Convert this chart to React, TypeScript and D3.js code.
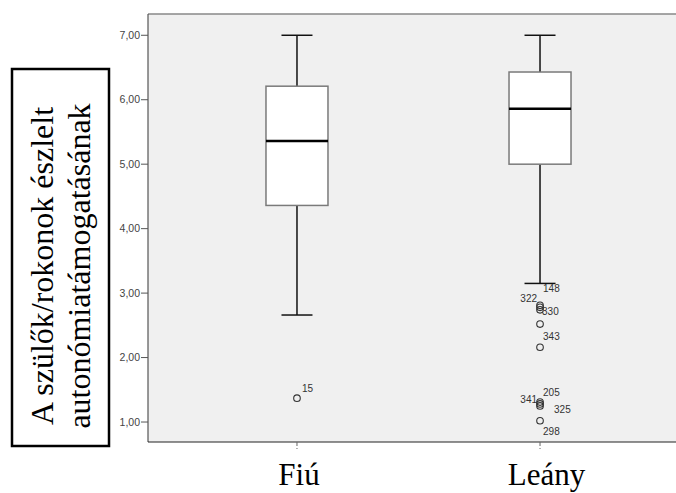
import React from 'react'
import * as d3 from 'd3'

// csoportok és dobozdiagram értékek
const groups = ['Fiú', 'Leány']
const whiskerLow = [2.66, 3.15]
const q1 = [4.36, 5.0]
const median = [5.36, 5.86]
const q3 = [6.21, 6.43]
const whiskerHigh = [7.0, 7.0]

// kiugró értékek
const outlierGroup = ['Fiú', 'Leány', 'Leány', 'Leány', 'Leány', 'Leány', 'Leány', 'Leány', 'Leány', 'Leány']
const outlierValue = [1.37, 2.81, 2.78, 2.74, 2.52, 2.16, 1.31, 1.28, 1.25, 1.02]
const outlierId = ['15', '148', '322', '330', '', '343', '205', '341', '325', '298']

const yTicks = [1, 2, 3, 4, 5, 6, 7]
const titleLines = ['A szülők/rokonok észlelt', 'autonómiatámogatásának']

// címke elhelyezés (dx, dy, anchor)
const labelPlace: [number, number, string][] = [
  [5, -10, 'start'], [3, -17, 'start'], [-3, -9, 'end'], [2, 2, 'start'], [0, 0, 'start'],
  [3, -11, 'start'], [3, -10, 'start'], [-3, -4, 'end'], [14, 4, 'start'], [3, 11, 'start']
]

const W = 676
const H = 493
const plot = { left: 148, right: 689, top: 14, bottom: 442 }

const fmt = d3.formatLocale({ decimal: ',', thousands: '.', grouping: [3], currency: ['', ''] }).format('.2f')
const serif = "'Liberation Serif', 'Times New Roman', serif"
const sans = "Arial, 'Liberation Sans', sans-serif"

export default function App() {
  const y = d3.scaleLinear().domain([0.69, 7.33]).range([plot.bottom, plot.top])
  const x = d3.scalePoint<string>().domain(groups).range([plot.left, plot.right]).padding(0.613)
  const boxW = 62
  const capW = 31

  return (
    <div>
      <style>{'body{margin:0}'}</style>
      <svg width={W} height={H} style={{ display: 'block', background: '#fff' }}>
        <rect x={plot.left} y={plot.top} width={plot.right - plot.left} height={plot.bottom - plot.top} fill="#f0f0f0" />
        <line x1={plot.left} x2={W} y1={plot.top} y2={plot.top} stroke="#888" strokeWidth={1.5} />
        <line x1={plot.left} x2={plot.left} y1={plot.top} y2={plot.bottom} stroke="#555" strokeWidth={1.2} />
        <line x1={plot.left} x2={W} y1={plot.bottom} y2={plot.bottom} stroke="#222" strokeWidth={1.2} />

        {/* y tengely */}
        {yTicks.map(t => (
          <g key={t}>
            <line x1={plot.left - 7} x2={plot.left} y1={y(t)} y2={y(t)} stroke="#555" />
            <text x={plot.left - 8} y={y(t)} dy="0.35em" textAnchor="end" fontFamily={sans} fontSize={10.5} fill="#444">{fmt(t)}</text>
          </g>
        ))}

        {/* x tengely */}
        {groups.map(g => (
          <g key={g}>
            <line x1={x(g)} x2={x(g)} y1={plot.bottom} y2={plot.bottom + 7} stroke="#666" strokeDasharray="4,2" />
            <text x={(x(g) as number) + (g === 'Leány' ? 6.5 : 2)} y={485} textAnchor="middle" fontFamily={serif} fontSize={31} fill="#000">{g}</text>
          </g>
        ))}

        {/* dobozok */}
        {groups.map((g, i) => {
          const cx = x(g) as number
          return (
            <g key={g}>
              <line x1={cx} x2={cx} y1={y(whiskerHigh[i])} y2={y(q3[i])} stroke="#111" strokeWidth={1.5} />
              <line x1={cx} x2={cx} y1={y(q1[i])} y2={y(whiskerLow[i])} stroke="#111" strokeWidth={1.5} />
              <line x1={cx - capW / 2} x2={cx + capW / 2} y1={y(whiskerHigh[i])} y2={y(whiskerHigh[i])} stroke="#111" strokeWidth={1.5} />
              <line x1={cx - capW / 2} x2={cx + capW / 2} y1={y(whiskerLow[i])} y2={y(whiskerLow[i])} stroke="#111" strokeWidth={1.5} />
              <rect x={cx - boxW / 2} y={y(q3[i])} width={boxW} height={y(q1[i]) - y(q3[i])} fill="#fff" stroke="#7a7a7a" strokeWidth={1.5} />
              <line x1={cx - boxW / 2} x2={cx + boxW / 2} y1={y(median[i])} y2={y(median[i])} stroke="#000" strokeWidth={2.5} />
            </g>
          )
        })}

        {/* kiugró pontok */}
        {outlierValue.map((v, i) => {
          const cx = x(outlierGroup[i]) as number
          const cy = y(v)
          const [dx, dy, anchor] = labelPlace[i]
          return (
            <g key={i}>
              <circle cx={cx} cy={cy} r={3.3} fill="none" stroke="#333" strokeWidth={1.1} />
              {outlierId[i] && (
                <text x={cx + dx} y={cy + dy} dy="0.35em" textAnchor={anchor} fontFamily={sans} fontSize={10} fill="#333">{outlierId[i]}</text>
              )}
            </g>
          )
        })}

        {/* tengelycím doboz */}
        <rect x={12} y={69} width={97} height={377} fill="#fff" stroke="#000" strokeWidth={2.5} />
        {titleLines.map((l, i) => (
          <text key={i} transform={`translate(${53 + i * 37},${266}) rotate(-90)`} textAnchor="middle"
            fontFamily={serif} fontSize={32} fill="#000">{l}</text>
        ))}
      </svg>
    </div>
  )
}
